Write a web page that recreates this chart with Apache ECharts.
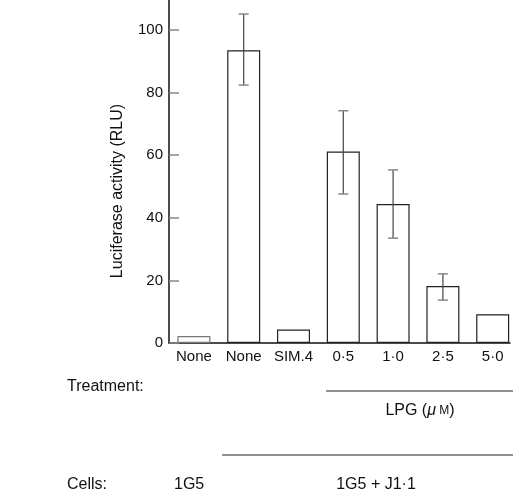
<!DOCTYPE html>
<html><head><meta charset="utf-8">
<script src="https://cdn.jsdelivr.net/npm/echarts@6/dist/echarts.min.js"></script>
<style>html,body{margin:0;padding:0;background:#fff}#c{width:520px;height:496px}</style>
</head><body><div id="c"></div>
<script>
const categories = ['None', 'None', 'SIM.4', '0·5', '1·0', '2·5', '5·0'];
const values = [2.2, 93.5, 4.3, 61.2, 44.4, 18.2, 9.2];
const errLow = [null, 82.4, null, 47.6, 33.5, 13.7, null];
const errHigh = [null, 105.1, null, 74.2, 55.3, 22.1, null];
const yMin = 0, yMax = 120, yStep = 20;
const yName = 'Luciferase activity (RLU)';
const treatmentLabel = 'Treatment:';
const cellsLabel = 'Cells:';
const cellGroups = ['1G5', '1G5 + J1·1'];

const FONT = '"Liberation Sans", Arial, Helvetica, sans-serif';
const chart = echarts.init(document.getElementById('c'), null, {renderer: 'canvas'});

const errData = [];
values.forEach((v, i) => { if (errLow[i] != null) errData.push([i, errLow[i], errHigh[i]]); });

const GT = -32.6, GB = 153;
chart.setOption({
  animation: false,
  backgroundColor: '#fff',
  grid: [
    {left: 169, width: 348.6, top: GT, bottom: GB, containLabel: false, outerBoundsMode: 'none'},
    {left: 169, width: 341, top: GT, bottom: GB, containLabel: false, outerBoundsMode: 'none'}
  ],
  xAxis: [
    {type: 'category', gridIndex: 0, data: categories, boundaryGap: true,
     axisLine: {show: false}, axisTick: {show: false},
     axisLabel: {color: '#111', fontFamily: FONT, fontSize: 15, margin: 6, interval: 0}},
    {type: 'value', gridIndex: 1, min: 0, max: 1,
     axisLine: {show: true, onZero: false, lineStyle: {color: '#111', width: 1.5}},
     axisTick: {show: false}, axisLabel: {show: false}, splitLine: {show: false}}
  ],
  yAxis: [
    {type: 'value', gridIndex: 0, min: yMin, max: yMax, interval: yStep,
     axisLine: {show: true, lineStyle: {color: '#111', width: 1.5}},
     axisTick: {show: true, inside: true, length: 10, lineStyle: {color: '#888', width: 1.5}},
     axisLabel: {color: '#111', fontFamily: FONT, fontSize: 15, margin: 6},
     splitLine: {show: false}},
    {type: 'value', gridIndex: 1, min: yMin, max: yMax, show: false}
  ],
  series: [
    {type: 'bar', xAxisIndex: 0, yAxisIndex: 0, barWidth: 33,
     data: values.map((v, i) => ({value: v, itemStyle: {color: '#fff', borderColor: i === 0 ? '#777' : '#222', borderWidth: 1.2}}))},
    {type: 'custom', xAxisIndex: 0, yAxisIndex: 0, data: errData,
     encode: {x: 0, y: [1, 2]},
     renderItem: function (params, api) {
       const lo = api.coord([api.value(0), api.value(1)]);
       const hi = api.coord([api.value(0), api.value(2)]);
       const hw = 5;
       const st = {stroke: '#444', lineWidth: 1.2};
       return {type: 'group', children: [
         {type: 'line', shape: {x1: lo[0], y1: lo[1], x2: hi[0], y2: hi[1]}, style: st},
         {type: 'line', shape: {x1: hi[0] - hw, y1: hi[1], x2: hi[0] + hw, y2: hi[1]}, style: {stroke: '#888', lineWidth: 1.5}},
         {type: 'line', shape: {x1: lo[0] - hw, y1: lo[1], x2: lo[0] + hw, y2: lo[1]}, style: {stroke: '#888', lineWidth: 1.5}}
       ]};
     }, z: 5}
  ],
  graphic: [
    {type: 'text', x: 118, y: 191, rotation: Math.PI / 2,
     style: {text: yName, fill: '#111', font: '16px ' + FONT, align: 'center', verticalAlign: 'middle'}},
    {type: 'text', x: 67, y: 387, style: {text: treatmentLabel, fill: '#111', font: '16px ' + FONT, verticalAlign: 'middle'}},
    {type: 'line', shape: {x1: 326, y1: 391, x2: 513, y2: 391}, style: {stroke: '#222', lineWidth: 1.2}},
    {type: 'text', x: 420, y: 411, style: {
      text: '{a|LPG (}{b|μ}{c| M}{a|)}', align: 'center', verticalAlign: 'middle',
      rich: {a: {fontSize: 16, fontFamily: FONT, fill: '#111'}, b: {fontSize: 16, fontFamily: FONT, fontStyle: 'italic', fill: '#111'}, c: {fontSize: 12, fontFamily: FONT, fill: '#111'}}}},
    {type: 'line', shape: {x1: 222, y1: 455, x2: 513, y2: 455}, style: {stroke: '#222', lineWidth: 1.2}},
    {type: 'text', x: 67, y: 485, style: {text: cellsLabel, fill: '#111', font: '16px ' + FONT, verticalAlign: 'middle'}},
    {type: 'text', x: 174, y: 485, style: {text: cellGroups[0], fill: '#111', font: '16px ' + FONT, verticalAlign: 'middle'}},
    {type: 'text', x: 376, y: 485, style: {text: cellGroups[1], fill: '#111', font: '16px ' + FONT, align: 'center', verticalAlign: 'middle'}}
  ]
});
</script></body></html>
